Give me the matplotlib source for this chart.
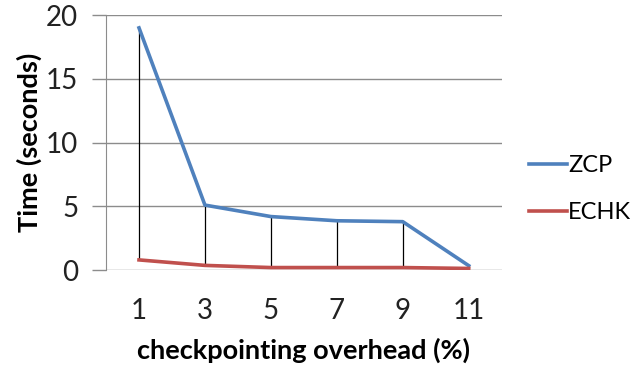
import numpy as np
from matplotlib import pyplot as plt

categories = ['1', '3', '5', '7', '9', '11']
zcp = [19.0, 5.1, 4.2, 3.87, 3.8, 0.35]
echk = [0.8, 0.37, 0.2, 0.2, 0.2, 0.13]

plt.rcParams['font.family'] = ['Lato', 'DejaVu Sans']

fig = plt.figure(figsize=(6.35, 3.69), dpi=100)
ax = fig.add_axes([0.167, 0.268, 0.623, 0.691])

xs = np.arange(len(categories))
# high-low lines
ax.vlines(xs, np.minimum(zcp, echk), np.maximum(zcp, echk), color='black', lw=0.9, zorder=2)
ax.plot(xs, zcp, color='#4f81bd', lw=2.6, label='ZCP', zorder=3, solid_joinstyle='round')
ax.plot(xs, echk, color='#c0504d', lw=2.6, label='ECHK', zorder=3, solid_joinstyle='round')

ax.set_xlim(-0.5, len(categories) - 0.5)
ax.set_ylim(0, 20)
ax.set_yticks([0, 5, 10, 15, 20])
ax.set_xticks(xs)
ax.set_xticklabels(categories)
ax.grid(True, axis='y', color='#8c8c8c', lw=1)
ax.set_axisbelow(True)

for s in ['top', 'right', 'bottom']:
    ax.spines[s].set_visible(False)
ax.spines['left'].set_color('#8c8c8c')
ax.tick_params(axis='y', length=10, width=1, color='#8c8c8c', labelsize=20, pad=10, labelcolor='#222222')
ax.tick_params(axis='x', length=0, labelsize=20, pad=20, labelcolor='#222222')

ax.set_ylabel('Time (seconds)', fontsize=19.5, fontweight='bold', labelpad=3)
ax.set_xlabel('checkpointing overhead (%)', fontsize=19.5, fontweight='bold', labelpad=10)

ax.legend(loc='center left', bbox_to_anchor=(1.07, 0.318), frameon=False, fontsize=17,
          handlelength=1.6, handletextpad=0.05, labelspacing=1.1, borderpad=0, borderaxespad=0)

fig.savefig('out.png', dpi=100)
